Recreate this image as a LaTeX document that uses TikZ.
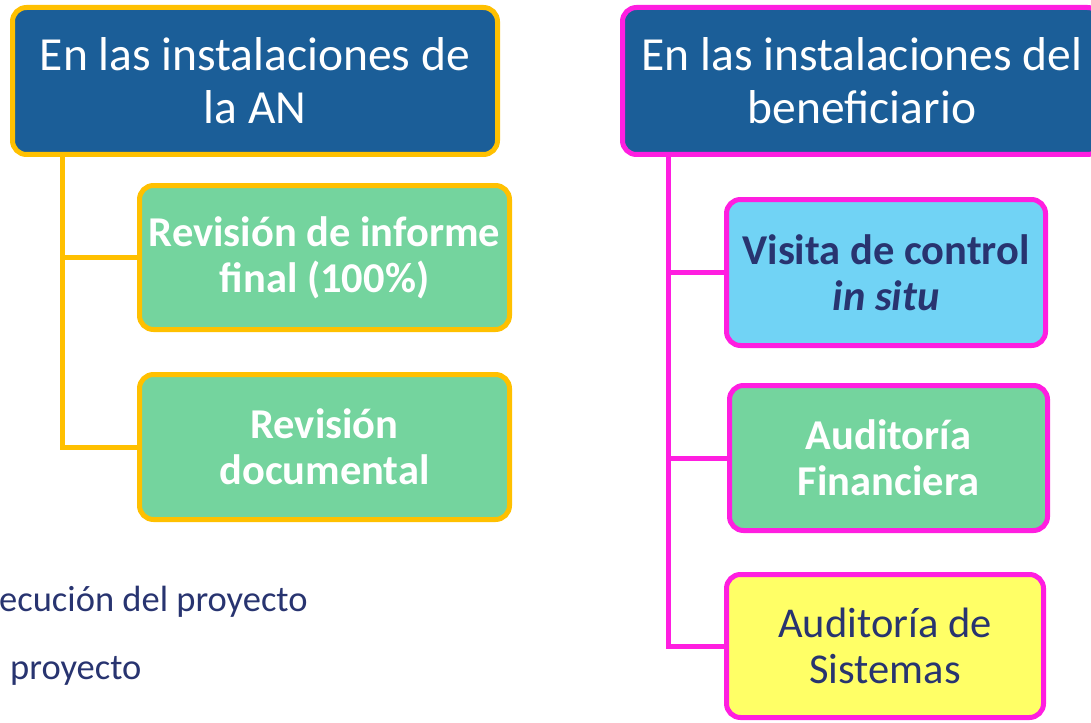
\documentclass[tikz,border=0pt]{standalone}
\usepackage{fontspec}
\setmainfont{Carlito}
\definecolor{hdrblue}{HTML}{1B5E98}
\definecolor{gold}{HTML}{FFC000}
\definecolor{pinkline}{HTML}{FF1EE0}
\definecolor{mint}{HTML}{74D49E}
\definecolor{skyfill}{HTML}{71D3F5}
\definecolor{lemon}{HTML}{FFFF66}
\definecolor{navytext}{HTML}{283470}

\begin{document}
\begin{tikzpicture}[x=1pt,y=-1pt,
  box/.style={rounded corners=14pt, line width=5pt, inner sep=0pt, align=center},
  hdr/.style={box, fill=hdrblue, text=white, font=\fontsize{47.5}{53}\selectfont},
  item/.style={box, font=\fontsize{42.5}{46}\selectfont},
  linkA/.style={gold, line width=5pt},
  linkB/.style={pinkline, line width=5pt}]
  \useasboundingbox (0,0) rectangle (1091,722);
  \clip (0,0) rectangle (1091,722);

  % left column
  \node[hdr, draw=gold, minimum width=485pt, minimum height=147pt] (hdrL) at (255,81)
    {En las instalaciones de\\la AN};
  \node[item, draw=gold, fill=mint, text=white, minimum width=370pt, minimum height=144pt] (revA) at (324.5,257.5)
    {\bfseries Revisión de informe\\\bfseries final (100\%)};
  \node[item, draw=gold, fill=mint, text=white, minimum width=370pt, minimum height=145pt] (revB) at (324.5,447)
    {\bfseries Revisión\\\bfseries documental};
  \coordinate (trunkL) at (62,157);
  \draw[linkA] (trunkL |- hdrL.south) |- (revA.west);
  \draw[linkA] (trunkL |- revA.west) |- (revB.west);

  % right column
  \node[hdr, draw=pinkline, minimum width=479pt, minimum height=147pt] (hdrR) at (862,81)
    {En las instalaciones del\\beneficiario};
  \node[item, draw=pinkline, fill=skyfill, text=navytext, minimum width=319pt, minimum height=146pt] (visita) at (886,272.5)
    {\bfseries Visita de control\\\bfseries\itshape in situ};
  \node[item, draw=pinkline, fill=mint, text=white, minimum width=318pt, minimum height=145pt] (audF) at (888.5,458)
    {\bfseries Auditoría\\\bfseries Financiera};
  \node[item, draw=pinkline, fill=lemon, text=navytext, minimum width=317pt, minimum height=143pt] (audS) at (885,646)
    {Auditoría de\\Sistemas};
  \coordinate (trunkR) at (668,157);
  \draw[linkB] (trunkR |- hdrR.south) |- (visita.west);
  \draw[linkB] (trunkR |- visita.west) |- (audF.west);
  \draw[linkB] (trunkR |- audF.west) |- (audS.west);

  % text left over at the bottom
  \node[anchor=base west, inner sep=0pt, text=navytext, font=\fontsize{36.5}{40}\selectfont] (lineA) at (-1,611)
    {ecución del proyecto};
  \node[anchor=base west, inner sep=0pt, text=navytext, font=\fontsize{36.5}{40}\selectfont] (lineB) at (10,679)
    {proyecto};
\end{tikzpicture}
\end{document}
